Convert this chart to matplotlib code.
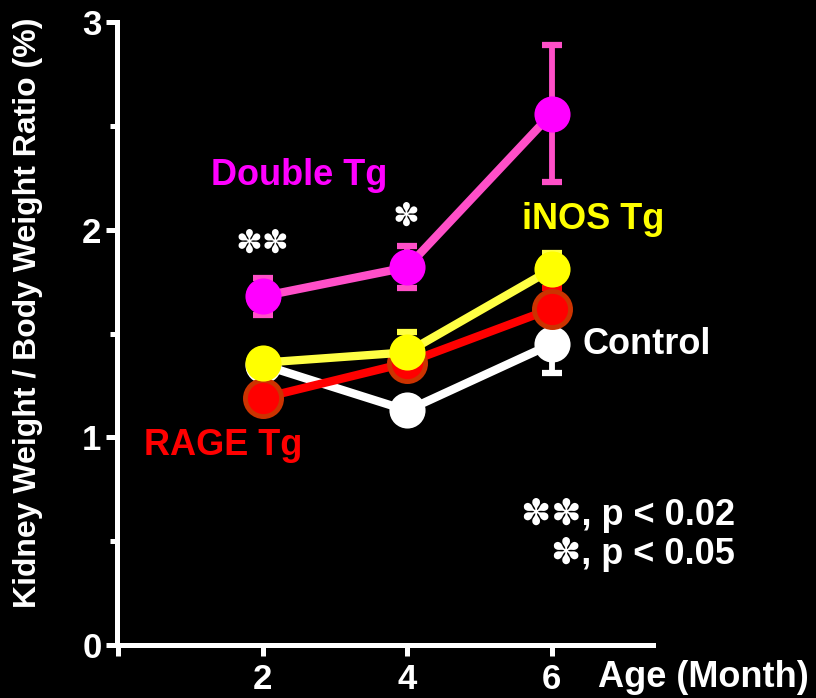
import matplotlib
matplotlib.use("Agg")
import matplotlib.pyplot as plt
from matplotlib.ticker import MultipleLocator

plt.rcParams['font.family'] = ['Liberation Sans', 'DejaVu Sans']
plt.rcParams['font.weight'] = 'bold'

ages = [2, 4, 6]

control = [1.35, 1.13, 1.45]
control_lo = [0.0, 0.0, 0.14]
control_hi = [0.0, 0.0, 0.0]

rage = [1.19, 1.36, 1.62]
rage_lo = [0.0, 0.0, 0.0]
rage_hi = [0.0, 0.0, 0.10]

inos = [1.36, 1.41, 1.81]
inos_lo = [0.0, 0.0, 0.0]
inos_hi = [0.0, 0.10, 0.08]

double = [1.68, 1.82, 2.56]
double_lo = [0.09, 0.10, 0.33]
double_hi = [0.09, 0.10, 0.33]

fig = plt.figure(figsize=(8.16, 6.98), dpi=100, facecolor='black')
ax = fig.add_axes([0.143, 0.076, 0.657, 0.892])
ax.set_facecolor('black')

series = [
    (control, control_lo, control_hi, '#ffffff', '#ffffff', '#ffffff', 0),
    (rage, rage_lo, rage_hi, '#ff0000', '#ff0000', '#cc3300', 3.5),
    (inos, inos_lo, inos_hi, '#ffff44', '#ffff00', '#ffff00', 0),
    (double, double_lo, double_hi, '#ff4fc8', '#ff00ff', '#ff00ff', 0),
]
for i, (vals, lo, hi, lc, mc, ec, mew) in enumerate(series):
    z = 2 + i
    ax.errorbar(ages, vals, yerr=[lo, hi], fmt='none', ecolor=lc,
                elinewidth=4.2, capsize=7.5, capthick=4.5, zorder=z)
    ax.plot(ages, vals, color=lc, lw=6, zorder=z + 0.1, solid_capstyle='round')
    ax.plot(ages, vals, 'o', ms=26, mfc=mc, mec=ec, mew=mew, zorder=z + 0.2, lw=0)

ax.set_xlim(-0.02, 7.4)
ax.set_ylim(0, 3)
for s in ['top', 'right']:
    ax.spines[s].set_visible(False)
for s in ['left', 'bottom']:
    ax.spines[s].set_color('white')
    ax.spines[s].set_linewidth(3.6)

ax.set_xticks([0, 2, 4, 6])
ax.set_xticklabels(['', '2', '4', '6'])
ax.set_yticks([0, 1, 2, 3])
ax.set_yticklabels(['0', '1', '2', '3'])
ax.yaxis.set_minor_locator(MultipleLocator(0.5))
ax.tick_params(axis='both', which='major', colors='white', width=3.6, length=8,
               labelsize=25, direction='out')
ax.tick_params(axis='x', which='major', pad=5)
ax.tick_params(axis='y', which='major', pad=3)
ax.tick_params(axis='y', which='minor', colors='white', width=3.6, length=5, direction='out')
for lab in ax.get_xticklabels() + ax.get_yticklabels():
    lab.set_fontweight('bold')

fig.text(0.034, 0.552, 'Kidney Weight / Body Weight Ratio (%)', color='white',
         fontsize=23, fontweight='bold', rotation=90, ha='center', va='center')
fig.text(0.733, 0.030, 'Age (Month)', color='white', fontsize=26,
         fontweight='bold', ha='left', va='center')

ax.text(2.50, 2.26, 'Double Tg', color='#ff00ff', fontsize=26, fontweight='bold',
        ha='center', va='center')
ax.text(6.57, 2.05, 'iNOS Tg', color='#ffff00', fontsize=26, fontweight='bold',
        ha='center', va='center')
ax.text(6.43, 1.45, 'Control', color='white', fontsize=26, fontweight='bold',
        ha='left', va='center')
ax.text(1.45, 0.96, 'RAGE Tg', color='#ff0000', fontsize=26, fontweight='bold',
        ha='center', va='center')

star = '\u273D'
ax.text(2.0, 1.93, star + star, color='white', fontsize=23, ha='center', va='center',
        family=['DejaVu Sans'], fontweight='bold')
ax.text(3.99, 2.06, star, color='white', fontsize=23, ha='center', va='center',
        family=['DejaVu Sans'], fontweight='bold')

fam = ['Liberation Sans', 'DejaVu Sans']
fig.text(0.901, 0.262, star + star + ', p < 0.02', color='white', fontsize=26,
         fontweight='bold', ha='right', va='center', family=fam)
fig.text(0.901, 0.205, star + ', p < 0.05', color='white', fontsize=26,
         fontweight='bold', ha='right', va='center', family=fam)

fig.savefig('out.png', dpi=100, facecolor='black')
